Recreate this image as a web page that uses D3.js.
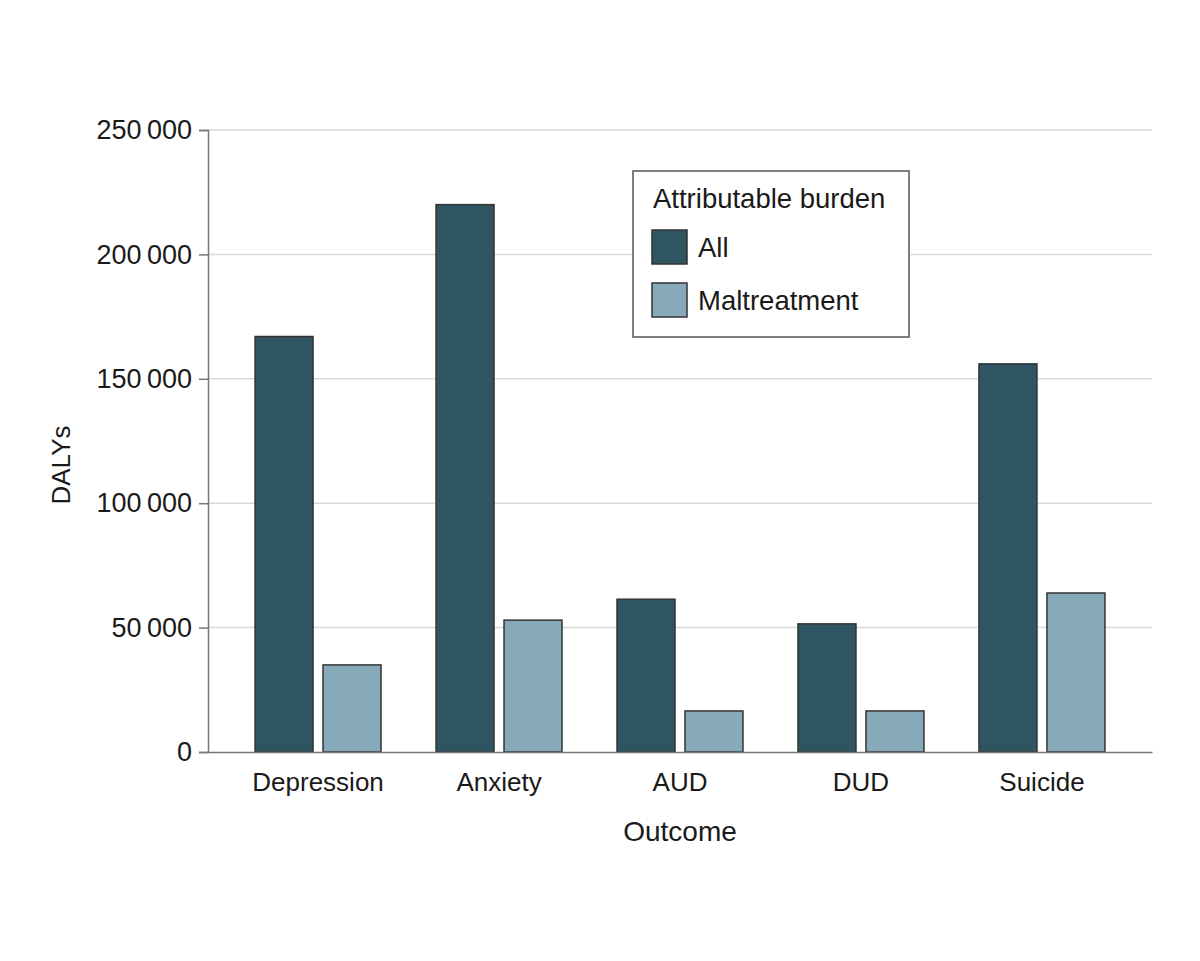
<!DOCTYPE html>
<html lang="en">
<head>
    <meta charset="UTF-8">
    <title>DALYs by outcome</title>
    <script src="https://d3js.org/d3.v7.min.js"></script>
    <style>
        body { margin: 0; background: #fff; }
        text { font-family: "Liberation Sans", Arial, sans-serif; fill: #1a1a1a; }
    </style>
</head>
<body>
<svg width="1200" height="961"></svg>
<script>
    // data
    const outcomes = ["Depression", "Anxiety", "AUD", "DUD", "Suicide"];
    const seriesNames = ["All", "Maltreatment"];
    const allValues = [167000, 220000, 61400, 51500, 156000];
    const maltreatmentValues = [35000, 53000, 16500, 16500, 63900];
    const yTicks = [0, 50000, 100000, 150000, 200000, 250000];

    const colors = { "All": "#2f5562", "Maltreatment": "#87aabb" };

    const svg = d3.select("svg");
    const plotLeft = 208, plotRight = 1152, plotTop = 130, plotBottom = 752;

    const x = d3.scaleBand()
        .domain(outcomes)
        .range([plotLeft, plotRight])
        .paddingInner(0.304)
        .paddingOuter(0.26);

    const xSub = d3.scaleBand()
        .domain(seriesNames)
        .range([0, x.bandwidth()])
        .paddingInner(0.147);

    const y = d3.scaleLinear()
        .domain([0, 250000])
        .range([plotBottom, plotTop]);

    // thousands with a thin space
    const fmt = d => d3.format(",")(d).replace(/,/g, "\u2009");

    // gridlines
    svg.append("g")
        .selectAll("line")
        .data(yTicks.filter(d => d > 0))
        .enter()
        .append("line")
        .attr("x1", plotLeft).attr("x2", plotRight)
        .attr("y1", d => y(d)).attr("y2", d => y(d))
        .attr("stroke", "#d9d9d9")
        .attr("stroke-width", 1.5);

    // y axis
    const yAxis = svg.append("g")
        .attr("transform", `translate(${plotLeft},0)`)
        .call(d3.axisLeft(y).tickValues(yTicks).tickFormat(fmt).tickSize(9).tickPadding(7));
    yAxis.select(".domain").attr("stroke", "#777").attr("stroke-width", 1.5);
    yAxis.selectAll(".tick line").attr("stroke", "#777").attr("stroke-width", 1.5);
    yAxis.selectAll(".tick text")
        .attr("font-size", "27px")
        .attr("fill", "#1a1a1a")
        .attr("font-family", "Liberation Sans, Arial, sans-serif");

    // bars
    const rows = outcomes.map((o, i) => ({
        outcome: o,
        values: [
            { key: "All", value: allValues[i] },
            { key: "Maltreatment", value: maltreatmentValues[i] }
        ]
    }));

    svg.append("g")
        .selectAll("g")
        .data(rows)
        .enter()
        .append("g")
        .attr("transform", d => `translate(${x(d.outcome)},0)`)
        .selectAll("rect")
        .data(d => d.values)
        .enter()
        .append("rect")
        .attr("x", d => xSub(d.key))
        .attr("width", xSub.bandwidth())
        .attr("y", d => y(d.value))
        .attr("height", d => y(0) - y(d.value))
        .attr("fill", d => colors[d.key])
        .attr("stroke", "#333")
        .attr("stroke-width", 1.5);

    // x axis
    const xAxis = svg.append("g")
        .attr("transform", `translate(0,${plotBottom})`)
        .call(d3.axisBottom(x).tickSize(0).tickPadding(16));
    xAxis.select(".domain").attr("stroke", "#777").attr("stroke-width", 1.5);
    xAxis.selectAll(".tick text")
        .attr("font-size", "26px")
        .attr("fill", "#1a1a1a")
        .attr("dy", "0.9em")
        .attr("font-family", "Liberation Sans, Arial, sans-serif");

    // axis titles
    svg.append("text")
        .attr("x", (plotLeft + plotRight) / 2)
        .attr("y", 841)
        .attr("text-anchor", "middle")
        .attr("font-size", "28px")
        .text("Outcome");

    svg.append("text")
        .attr("transform", "translate(70,465) rotate(-90)")
        .attr("text-anchor", "middle")
        .attr("font-size", "26px")
        .text("DALYs");

    // legend
    const legend = svg.append("g").attr("transform", "translate(633,171)");
    legend.append("rect")
        .attr("width", 276).attr("height", 166)
        .attr("fill", "#fff")
        .attr("stroke", "#555")
        .attr("stroke-width", 1.5);
    legend.append("text")
        .attr("x", 20).attr("y", 37)
        .attr("font-size", "27.5px")
        .text("Attributable burden");
    const items = legend.selectAll(".item")
        .data(seriesNames)
        .enter()
        .append("g")
        .attr("class", "item")
        .attr("transform", (d, i) => `translate(19,${59 + i * 53})`);
    items.append("rect")
        .attr("width", 35).attr("height", 34)
        .attr("fill", d => colors[d])
        .attr("stroke", "#333")
        .attr("stroke-width", 1.5);
    items.append("text")
        .attr("x", 46).attr("y", 27)
        .attr("font-size", "27.5px")
        .text(d => d);
</script>
</body>
</html>
